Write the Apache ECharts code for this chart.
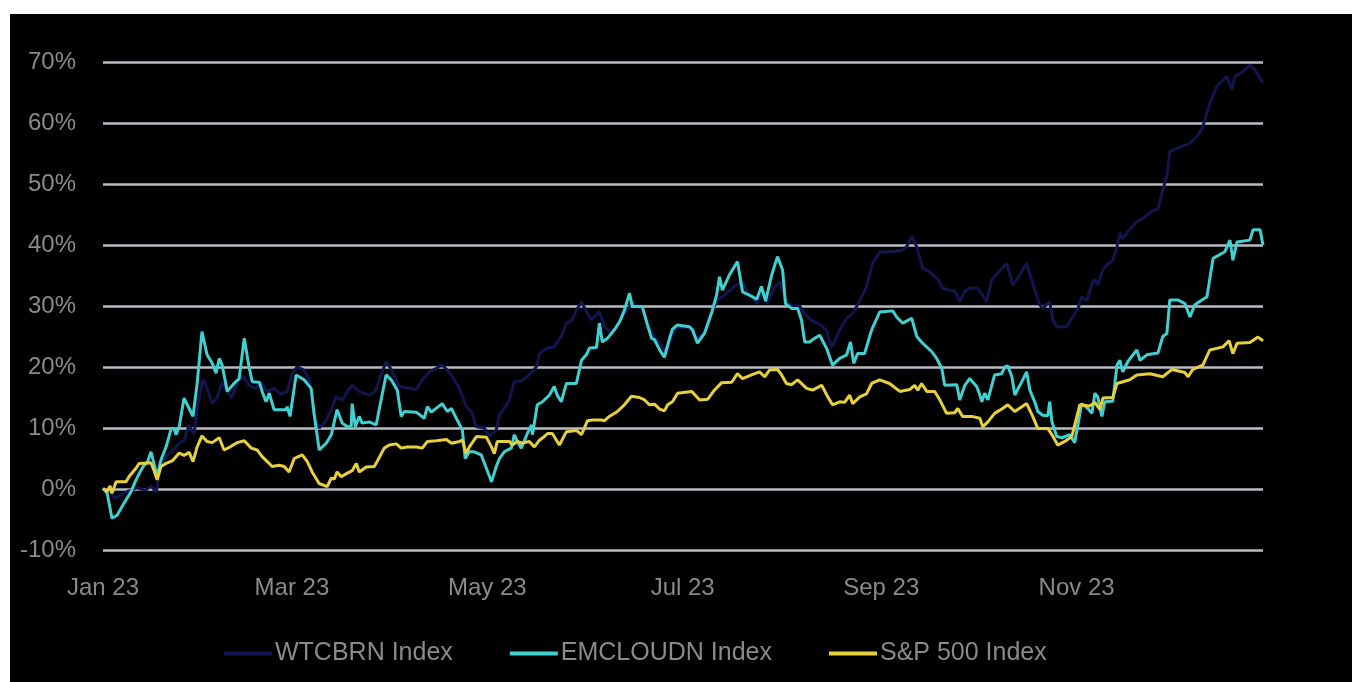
<!DOCTYPE html>
<html>
<head>
<meta charset="utf-8">
<script src="https://cdn.jsdelivr.net/npm/echarts@6/dist/echarts.min.js"></script>
<style>
html,body{margin:0;padding:0;background:#ffffff;width:1352px;height:682px;overflow:hidden;}
#chart{position:absolute;left:10px;top:14px;width:1342px;height:668px;background:#000000;}
</style>
</head>
<body>
<div id="chart"></div>
<script>
// x values are days since 1 Jan 2023
const monthLabels = ['Jan 23','Mar 23','May 23','Jul 23','Sep 23','Nov 23'];
const monthDays = [0, 59, 120, 181, 243, 304];
const seriesNames = ['WTCBRN Index','EMCLOUDN Index','S&P 500 Index'];

const wtcDays = [0,1.9,3.8,5.6,8.1,10.6,13.1,15.0,16.6,18.1,20.0,22.2,23.8,25.3,26.9,28.4,29.7,31.3,32.5,34.1,35.6,37.2,38.8,40.3,41.9,43.8,45.6,47.5,49.4,51.3,53.4,55.6,57.5,59.1,60.6,62.8,64.4,65.9,67.5,69.4,71.3,72.8,74.7,76.3,77.8,80.0,83.1,85.0,86.3,88.4,90.0,92.5,95.6,97.8,99.7,101.9,104.1,105.9,107.5,109.1,111.3,113.4,115.0,116.6,119.1,120.6,122.8,123.8,125.6,126.9,128.4,130.9,133.1,135.3,136.3,138.8,140.9,143.1,144.7,146.3,147.8,149.4,150.9,152.5,155.0,156.6,158.8,161.3,163.8,165.3,168.4,170.0,172.2,174.4,175.9,177.5,179.4,183.1,185.6,187.8,190.0,191.9,193.4,195.6,197.8,199.7,201.9,204.1,205.9,207.5,209.7,211.3,213.1,215.0,217.5,219.4,221.6,223.8,225.9,227.5,228.8,230.0,232.2,234.1,235.3,236.9,238.4,240.3,242.5,245.6,249.4,250.9,252.5,254.1,255.9,258.1,260.6,262.2,264.4,265.9,267.5,269.1,270.6,273.1,274.4,275.9,277.5,279.4,282.2,284.1,285.3,288.4,290.3,292.5,293.4,295.6,296.6,297.8,300.9,302.8,304.4,305.6,307.2,308.8,309.7,310.6,312.2,313.4,315.3,316.6,317.5,318.4,320.0,322.8,325.3,327.5,329.4,330.9,332.2,333.1,336.3,339.4,341.6,343.4,345.6,347.8,349.4,350.9,352.5,353.4,355.9,358.1,359.7,360.6,362.2];
const wtcVals = [0,-0.5,-1.5,-1.0,-0.3,0.2,-0.2,0.5,-0.5,4.0,5.5,6.5,7.5,8.0,10.5,9.0,14.0,18.0,16.5,14.0,15.0,17.5,16.0,15.0,17.5,18.5,17.0,16.5,17.5,16.0,16.5,15.5,16.0,19.0,20.0,19.5,18.0,12.0,10.0,11.0,13.0,15.1,14.6,16.0,17.0,16.0,15.4,16.0,17.9,20.9,19.6,16.8,16.5,16.3,17.9,19.2,19.8,20.3,19.5,18.4,16.5,13.5,12.7,10.2,10.0,8.6,9.7,12.1,13.5,14.6,17.6,17.8,18.7,20.0,22.2,23.1,23.3,25.0,27.2,27.6,29.3,30.7,29.1,27.7,29.1,26.6,25.5,27.5,29.5,30.5,29.5,27.0,25.0,23.5,22.5,25.0,26.5,26.5,24.5,25.8,29.0,31.0,31.5,32.5,33.5,33.8,31.8,30.5,32.0,30.5,33.0,34.0,31.0,30.0,30.0,28.5,27.5,27.0,26.0,23.3,24.5,26.1,28.0,28.8,29.9,31.5,33.2,37.0,38.8,38.9,39.1,39.7,41.4,39.7,36.2,35.6,34.5,32.9,32.6,32.5,30.7,32.4,32.9,32.9,32.0,30.7,34.3,35.4,37.0,33.4,34.3,37.0,33.7,30.2,29.6,30.7,27.7,26.6,26.6,28.2,29.5,31.5,30.8,33.7,34.3,33.5,35.9,36.7,37.5,39.7,42.0,41.0,42.2,43.8,44.6,45.5,45.9,49.0,51.5,55.3,56.1,56.7,57.8,59.4,63.2,66.0,66.8,67.6,65.5,67.6,68.4,69.5,68.7,67.9,66.5];

const emcDays = [0,1.3,2.8,4.4,6.6,8.8,10.3,11.9,12.8,13.8,15.0,15.9,16.9,18.1,19.7,21.3,22.2,22.8,23.8,25.3,26.9,28.1,29.4,30.9,32.5,34.1,35.3,36.3,37.2,38.8,40.9,42.5,44.1,45.6,46.6,48.8,49.7,50.9,51.9,53.4,57.2,57.5,58.4,60.3,62.8,65.0,65.9,67.5,69.7,71.3,73.1,74.7,76.3,77.5,77.8,78.8,80.0,80.9,83.1,85.3,86.3,88.4,90.0,91.9,93.1,94.1,97.8,100.3,101.3,102.5,105.9,107.5,108.8,110.6,112.2,113.1,114.4,115.9,118.1,119.7,121.3,122.8,123.8,125.3,127.5,128.4,129.4,130.6,132.5,133.8,134.1,135.6,137.2,139.4,140.9,141.9,143.1,144.7,147.8,149.4,150.9,151.9,154.1,155.0,155.9,157.5,159.7,161.3,162.8,164.4,165.3,168.4,170.0,171.3,172.2,173.8,175.3,176.9,177.8,179.4,183.1,184.1,185.6,187.8,190.0,191.6,192.5,193.4,195.6,198.1,199.7,202.5,204.1,205.6,206.9,208.8,210.6,212.2,213.1,215.0,216.9,218.1,219.1,220.6,222.2,223.8,225.9,227.8,230.0,232.2,233.4,234.4,235.6,237.8,240.0,242.5,246.6,247.8,249.7,252.5,254.1,255.9,258.8,260.3,261.9,262.8,266.6,267.5,269.1,270.6,272.8,273.8,274.4,275.3,276.3,278.4,280.6,281.6,282.5,283.8,284.7,286.3,288.4,289.4,290.9,291.9,293.4,295.0,295.6,296.3,297.8,299.4,301.9,303.4,305.6,307.5,308.8,309.7,310.6,311.9,312.8,315.3,316.6,317.5,318.4,320.0,322.8,323.8,325.9,329.4,330.9,332.2,333.1,335.6,337.8,339.4,340.9,344.7,346.6,350.3,351.9,352.8,354.1,358.1,359.1,361.3,362.2];
const emcVals = [0.1,-0.7,-4.8,-4.3,-2.3,-0.4,1.5,3.1,3.9,4.3,6.1,4.2,2.0,4.8,6.9,9.9,9.9,8.9,10.2,14.9,13.2,11.9,17.3,25.8,22.0,20.6,19.0,21.4,20.3,16.0,17.3,18.1,24.7,20.0,17.6,17.5,16.0,14.3,15.7,13.0,13.0,13.5,11.9,18.7,17.9,16.5,12.4,6.4,7.5,8.9,13.0,10.8,10.2,10.2,14.0,10.2,11.9,10.8,11.0,10.5,13.2,18.7,17.9,16.2,11.9,12.7,12.6,11.6,13.5,12.6,14.0,12.7,13.2,11.3,9.7,5.0,6.1,6.1,5.6,3.4,1.2,3.7,5.0,6.1,6.7,8.9,7.8,6.7,9.1,10.5,8.9,13.8,14.3,15.4,16.8,15.3,14.3,17.3,17.3,21.1,22.0,23.1,23.2,27.2,24.1,24.7,26.1,27.4,29.3,32.1,29.9,29.9,26.9,24.7,24.5,22.8,21.6,24.7,26.2,26.9,26.6,26.1,23.9,25.5,28.8,31.8,34.8,32.6,35.1,37.3,32.3,31.6,31.1,33.2,30.8,35.1,38.1,35.9,30.4,29.6,29.6,27.7,24.1,24.1,24.7,25.2,23.1,20.3,21.4,22.0,24.1,20.6,22.2,22.2,26.1,29.0,29.2,28.2,27.2,28.0,25.0,23.9,22.5,21.4,19.8,17.0,17.1,14.6,17.0,18.1,16.8,15.4,14.3,15.7,14.6,18.7,18.9,20.0,20.2,18.4,15.4,17.0,19.2,16.2,14.3,12.7,12.1,12.0,14.3,11.0,8.6,8.4,8.9,7.6,14.0,13.2,12.4,15.7,15.1,11.9,14.3,14.4,20.3,21.1,19.2,20.9,22.8,21.1,22.0,22.3,25.0,25.5,31.0,31.0,30.4,28.2,30.2,31.5,37.8,38.9,40.8,37.5,40.5,40.8,42.5,42.5,40.0];

const spxDays = [0,1.3,2.2,2.8,4.1,7.2,8.1,10.3,11.3,15.0,15.9,16.9,18.1,19.7,21.6,23.8,25.3,26.9,28.1,29.4,30.9,32.5,34.1,36.3,37.8,40.0,41.9,44.1,46.3,48.1,49.7,51.3,52.8,55.0,56.6,58.1,59.7,62.2,63.8,65.3,67.5,70.0,71.3,72.2,73.1,74.4,76.3,77.8,79.1,80.0,82.2,84.7,85.6,87.8,89.4,91.6,93.1,95.0,97.8,99.7,101.3,104.1,107.2,108.8,111.3,112.2,113.4,114.4,116.6,119.7,121.3,122.2,123.1,126.9,127.8,129.4,130.9,133.1,134.7,136.3,137.8,138.8,140.3,142.5,144.7,147.8,149.4,151.3,152.8,155.6,156.6,158.1,160.6,162.8,165.0,167.5,169.1,170.6,172.2,173.8,175.3,176.3,177.8,179.4,183.8,186.3,188.8,190.9,193.1,196.3,198.1,199.7,202.5,205.0,206.6,208.1,210.6,211.9,213.4,215.0,216.9,219.7,221.6,224.4,226.3,227.8,230.0,231.6,233.1,234.1,236.3,238.4,240.0,242.5,245.6,248.8,251.9,253.4,254.4,255.6,257.2,259.7,261.3,263.4,265.9,266.9,268.4,271.3,273.8,274.7,276.3,278.4,280.9,282.5,284.7,288.4,290.3,291.9,295.0,296.3,298.1,300.3,302.5,305.0,308.1,309.7,311.3,312.2,315.3,316.6,320.6,322.8,326.9,330.9,333.8,337.8,338.8,340.3,343.4,345.6,349.7,351.6,352.8,354.1,358.1,360.6,362.2];
const spxVals = [0.1,-0.4,0.5,-0.7,1.2,1.2,2.0,3.4,4.2,4.3,3.1,1.5,3.7,4.2,4.6,5.9,5.5,6.0,4.5,6.9,8.7,7.8,7.6,8.4,6.4,7.0,7.6,7.9,6.7,6.4,5.3,4.5,3.7,3.9,3.7,2.8,5.0,5.6,4.5,2.8,0.9,0.4,1.8,1.6,2.8,2.0,2.6,3.0,4.2,2.8,3.6,3.7,4.5,6.7,7.2,7.4,6.7,6.9,6.9,6.7,7.8,7.9,8.1,7.5,7.8,8.0,5.8,6.9,8.6,8.5,6.9,5.8,7.8,7.8,7.2,7.8,7.5,7.8,6.9,8.0,8.6,9.1,9.1,7.2,9.4,9.6,8.9,11.2,11.3,11.3,11.2,11.9,12.7,13.8,15.2,15.0,14.6,13.8,13.9,13.1,12.8,13.8,14.3,15.7,16.0,14.6,14.7,16.2,17.4,17.5,18.9,18.1,18.7,19.2,18.4,19.5,19.6,18.7,17.3,17.1,17.9,16.5,16.2,17.0,15.1,13.8,14.3,14.2,15.4,14.0,15.1,15.6,17.3,17.9,17.3,16.0,16.3,17.0,16.2,17.3,16.0,16.0,14.6,12.4,12.5,13.2,11.9,11.9,11.6,10.2,11.0,12.4,13.2,13.8,12.7,14.0,11.9,9.9,9.9,8.9,7.2,7.8,8.6,13.8,13.6,14.2,13.0,14.9,15.0,17.3,17.9,18.7,18.9,18.4,19.6,19.1,18.4,19.6,20.3,22.8,23.3,24.3,22.2,23.9,24.0,24.9,24.3];

const colors = ['#14144e', '#40d0d0', '#e6d03c'];

function pairs(days, vals) { return days.map((d, i) => [d, vals[i]]); }

const chart = echarts.init(document.getElementById('chart'));
const textFont = '"Liberation Sans", Arial, sans-serif';
chart.setOption({
  animation: false,
  backgroundColor: '#000000',
  grid: { left: 93, right: 89, top: 48, bottom: 132 },
  legend: {
    left: 209, top: 622,
    itemWidth: 48, itemHeight: 4, itemGap: 57,
    icon: 'rect',
    textStyle: { color: '#8a8a8a', fontSize: 25, fontFamily: textFont, padding: [0, 0, 0, -2] },
    data: seriesNames
  },
  xAxis: {
    type: 'value', min: 0, max: 362.2,
    axisLine: { show: false }, axisTick: { show: false }, splitLine: { show: false },
    axisLabel: {
      customValues: monthDays,
      formatter: v => { const i = monthDays.indexOf(v); return i >= 0 ? monthLabels[i] : ''; },
      color: '#8a8a8a', fontSize: 24, fontFamily: textFont, margin: 26
    }
  },
  yAxis: {
    type: 'value', min: -10, max: 70, interval: 10,
    axisLine: { show: false }, axisTick: { show: false },
    axisLabel: { formatter: '{value}%', color: '#8a8a8a', fontSize: 24, fontFamily: textFont, margin: 27 },
    splitLine: { lineStyle: { color: '#b8bcc4', width: 2.5 } }
  },
  series: [
    { name: seriesNames[0], type: 'line', data: pairs(wtcDays, wtcVals), showSymbol: false, symbol: 'none', lineStyle: { color: colors[0], width: 3 }, itemStyle: { color: colors[0] } },
    { name: seriesNames[1], type: 'line', data: pairs(emcDays, emcVals), showSymbol: false, symbol: 'none', lineStyle: { color: colors[1], width: 3 }, itemStyle: { color: colors[1] } },
    { name: seriesNames[2], type: 'line', data: pairs(spxDays, spxVals), showSymbol: false, symbol: 'none', lineStyle: { color: colors[2], width: 3 }, itemStyle: { color: colors[2] } }
  ]
});
</script>
</body>
</html>
